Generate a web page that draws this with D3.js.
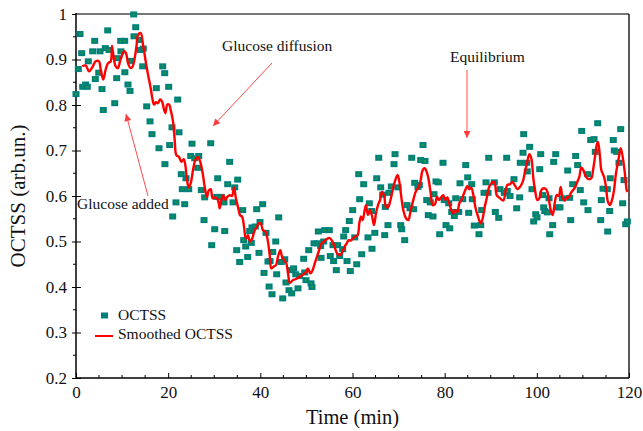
<!DOCTYPE html>
<html>
<head>
<meta charset="utf-8">
<script src="https://cdn.jsdelivr.net/npm/d3@7"></script>
<style>
  body { margin: 0; background: #fff; }
  svg text { font-family: "Liberation Serif", "Times New Roman", serif; fill: #111; }
</style>
</head>
<body>
<div id="chart"></div>
<script>
// raw OCTSS readings (time in min, value in arb. units)
const obsTime = [0, 0.5, 0.87, 1.24, 1.45, 2.10, 2.45, 2.67, 3.62, 4.06, 4.19, 4.93, 5.21, 5.64, 5.92, 6.36, 6.88, 7.16, 8.40, 8.83,
  8.96, 9.70, 9.75, 10.57, 10.6, 11.28, 11.72, 11.87, 12.52, 12.59, 12.96, 13.74, 13.89, 14.47, 14.60, 15.34, 16.06, 16.49, 17.43, 18.01,
  18.81, 19.25, 19.3, 20.12, 20.33, 20.83, 20.98, 21.70, 22.07, 22.35, 22.85, 23.07, 23.59, 23.87, 24.46, 24.89, 25.17, 25.76, 26.41, 26.63,
  27.19, 27.78, 27.93, 29.23, 29.45, 30.10, 30.53, 30.75, 31.53, 32.11, 32.27, 32.92, 33.35, 34.07, 34.44, 34.87, 35.09, 35.52, 36.17, 36.39,
  36.83, 37.26, 37.69, 38.04, 38.19, 38.91, 39.21, 39.71, 39.93, 40.51, 40.80, 41.23, 41.66, 41.9, 42.10, 42.53, 42.69, 43.34, 43.55, 43.99,
  44.55, 44.86, 45.29, 45.57, 46.22, 46.72, 46.8, 47.24, 47.68, 48.17, 48.54, 49.41, 49.63, 49.91, 50.50, 51.00, 51.21, 51.65, 52.37, 52.59,
  53.09, 53.18, 53.75, 53.97, 54.97, 55.18, 55.77, 55.9, 56.49, 56.79, 57.22, 57.87, 58.09, 58.52, 58.81, 59.31, 59.52, 60.04, 60.48, 60.91,
  61.35, 61.56, 62.00, 62.43, 63.36, 63.65, 64.17, 64.23, 64.84, 65.25, 65.69, 66.12, 66.55, 66.99, 67.12, 67.70, 67.92, 68.42, 69.01, 69.23,
  69.87, 70.46, 70.68, 71.33, 71.83, 72.48, 72.85, 73.28, 73.50, 74.21, 74.50, 74.80, 75.30, 75.73, 76.10, 76.45, 76.88, 77.47, 77.69, 78.12,
  78.62, 78.92, 79.64, 79.92, 80.29, 80.88, 81.09, 81.53, 82.09, 82.40, 83.05, 83.33, 83.92, 84.57, 85.00, 85.21, 85.87, 86.0, 86.43, 87.45,
  87.82, 88.04, 88.54, 88.97, 89.40, 89.56, 90.77, 90.99, 91.73, 92.01, 92.94, 93.46, 93.59, 94.18, 95.04, 95.63, 96.28, 96.41, 97.00, 97.15,
  97.80, 97.93, 98.45, 98.95, 99.32, 99.76, 100.04, 100.63, 100.84, 101.27, 101.49, 101.71, 102.27, 102.64, 102.80, 103.44, 103.66, 104.10, 104.53, 105.03,
  105.53, 106.70, 107.13, 107.35, 107.79, 108.43, 108.87, 109.43, 109.74, 110.17, 111.04, 111.1, 111.69, 112.41, 112.69, 113.21, 113.86, 113.99, 114.36, 115.29,
  115.38, 115.81, 115.94, 116.59, 116.81, 117.33, 117.83, 118.20, 118.63, 118.92, 119.29, 119.64];
const obsValue = [0.824, 0.879, 0.956, 0.914, 0.840, 0.845, 0.840, 0.896, 0.918, 0.941, 0.857, 0.871, 0.918, 0.835, 0.789, 0.925, 0.964, 0.921, 0.804, 0.859,
  0.903, 0.941, 0.918, 0.941, 0.872, 0.845, 0.831, 0.897, 0.999, 0.951, 0.971, 0.943, 0.921, 0.885, 0.924, 0.797, 0.764, 0.736, 0.837, 0.705,
  0.885, 0.870, 0.670, 0.840, 0.712, 0.751, 0.555, 0.586, 0.812, 0.740, 0.648, 0.615, 0.582, 0.639, 0.615, 0.688, 0.715, 0.683, 0.662, 0.688,
  0.613, 0.547, 0.597, 0.716, 0.492, 0.527, 0.598, 0.639, 0.598, 0.586, 0.523, 0.626, 0.675, 0.586, 0.619, 0.481, 0.636, 0.455, 0.569, 0.503,
  0.489, 0.466, 0.523, 0.497, 0.531, 0.533, 0.571, 0.475, 0.543, 0.582, 0.431, 0.519, 0.456, 0.401, 0.457, 0.384, 0.477, 0.500, 0.428, 0.553,
  0.455, 0.375, 0.461, 0.410, 0.393, 0.437, 0.386, 0.441, 0.428, 0.397, 0.424, 0.462, 0.432, 0.415, 0.481, 0.408, 0.400, 0.496, 0.496, 0.522,
  0.490, 0.464, 0.500, 0.525, 0.525, 0.468, 0.492, 0.457, 0.437, 0.492, 0.468, 0.483, 0.511, 0.525, 0.457, 0.545, 0.435, 0.569, 0.509, 0.450,
  0.648, 0.593, 0.472, 0.626, 0.509, 0.584, 0.567, 0.484, 0.519, 0.639, 0.684, 0.619, 0.603, 0.514, 0.576, 0.536, 0.607, 0.621, 0.670, 0.692,
  0.619, 0.536, 0.527, 0.503, 0.580, 0.573, 0.684, 0.571, 0.629, 0.620, 0.624, 0.679, 0.712, 0.677, 0.591, 0.558, 0.586, 0.555, 0.604, 0.632,
  0.630, 0.516, 0.673, 0.591, 0.536, 0.584, 0.529, 0.565, 0.556, 0.595, 0.565, 0.628, 0.593, 0.668, 0.641, 0.563, 0.626, 0.593, 0.535, 0.516,
  0.536, 0.569, 0.607, 0.630, 0.607, 0.684, 0.630, 0.565, 0.552, 0.615, 0.607, 0.684, 0.611, 0.600, 0.637, 0.573, 0.597, 0.673, 0.695, 0.736,
  0.673, 0.654, 0.708, 0.615, 0.544, 0.560, 0.553, 0.659, 0.692, 0.602, 0.575, 0.567, 0.564, 0.595, 0.516, 0.536, 0.675, 0.692, 0.575, 0.575,
  0.595, 0.656, 0.596, 0.547, 0.626, 0.688, 0.668, 0.613, 0.743, 0.586, 0.648, 0.569, 0.723, 0.725, 0.697, 0.760, 0.547, 0.591, 0.616, 0.615,
  0.522, 0.567, 0.639, 0.723, 0.700, 0.697, 0.673, 0.747, 0.584, 0.635, 0.538, 0.544];

// smoothed curve
const smoothTime = [1.37, 2.10, 2.82, 3.54, 4.27, 4.99, 5.36, 5.92, 6.44, 6.94, 7.53, 7.81, 8.09, 8.61, 9.11, 9.55, 9.92, 10.42, 10.85, 11.28,
  11.87, 12.30, 12.74, 13.17, 13.52, 14.04, 14.54, 15.12, 15.62, 16.21, 16.56, 16.93, 17.36, 17.79, 18.23, 18.66, 19.10, 19.38, 19.81, 20.18,
  20.62, 21.05, 21.42, 21.77, 22.35, 22.85, 23.37, 23.72, 24.09, 24.46, 24.89, 25.39, 25.89, 26.47, 26.97, 27.49, 27.93, 28.43, 28.80, 29.23,
  29.66, 30.23, 30.81, 31.18, 31.53, 31.96, 32.40, 32.83, 33.35, 33.85, 34.29, 34.65, 35.15, 35.65, 36.02, 36.46, 36.74, 37.04, 37.32, 37.76,
  38.19, 38.78, 39.21, 39.65, 40.08, 40.58, 41.08, 41.60, 42.03, 42.38, 42.90, 43.40, 43.83, 44.33, 44.70, 45.14, 45.64, 46.00, 46.44, 47.03,
  47.59, 48.33, 49.04, 49.76, 50.34, 50.84, 51.21, 51.93, 52.67, 53.23, 53.82, 54.40, 54.97, 55.55, 56.14, 56.70, 57.29, 57.87, 58.31, 58.74,
  59.18, 59.61, 60.04, 60.61, 61.13, 61.48, 61.85, 62.21, 62.65, 62.93, 63.36, 63.80, 64.23, 64.67, 65.10, 65.53, 65.97, 66.40, 66.84, 67.27,
  67.70, 68.14, 68.72, 69.29, 69.81, 70.16, 70.59, 71.03, 71.61, 72.11, 72.63, 73.19, 73.78, 74.37, 74.80, 75.23, 75.67, 76.10, 76.54, 76.97,
  77.41, 77.90, 78.34, 78.77, 79.21, 79.70, 80.14, 80.57, 81.01, 81.44, 81.88, 82.31, 82.74, 83.18, 83.61, 84.05, 84.48, 84.92, 85.35, 85.78,
  86.22, 86.65, 87.23, 87.82, 88.25, 88.69, 89.12, 89.56, 90.12, 90.77, 91.29, 92.01, 92.72, 93.25, 93.59, 94.18, 94.68, 95.20, 95.76, 96.35,
  96.93, 97.43, 97.93, 98.37, 98.80, 99.24, 99.67, 100.10, 100.54, 100.97, 101.56, 102.14, 102.58, 103.01, 103.44, 103.88, 104.31, 104.75, 105.18, 105.61,
  106.05, 106.48, 106.92, 107.35, 107.78, 108.35, 108.78, 109.22, 109.65, 110.09, 110.67, 111.26, 111.82, 112.26, 112.62, 112.99, 113.27, 113.71, 113.99, 114.58,
  115.01, 115.44, 115.88, 116.31, 116.75, 117.18, 117.77, 118.20, 118.63, 119.07, 119.50, 119.67];
const smoothValue = [0.885, 0.887, 0.874, 0.883, 0.896, 0.896, 0.878, 0.856, 0.878, 0.892, 0.896, 0.930, 0.911, 0.885, 0.881, 0.896, 0.907, 0.918, 0.914, 0.892,
  0.881, 0.885, 0.903, 0.933, 0.955, 0.958, 0.933, 0.896, 0.867, 0.837, 0.815, 0.801, 0.806, 0.804, 0.812, 0.808, 0.790, 0.782, 0.801, 0.801,
  0.786, 0.764, 0.723, 0.690, 0.686, 0.675, 0.681, 0.668, 0.635, 0.619, 0.628, 0.657, 0.679, 0.686, 0.675, 0.650, 0.620, 0.598, 0.612, 0.615,
  0.595, 0.597, 0.591, 0.573, 0.591, 0.602, 0.591, 0.598, 0.602, 0.600, 0.619, 0.598, 0.576, 0.557, 0.555, 0.533, 0.511, 0.507, 0.514, 0.500,
  0.505, 0.525, 0.531, 0.540, 0.540, 0.525, 0.522, 0.503, 0.470, 0.441, 0.445, 0.448, 0.467, 0.481, 0.467, 0.459, 0.452, 0.430, 0.409, 0.415,
  0.417, 0.421, 0.426, 0.431, 0.441, 0.430, 0.434, 0.456, 0.478, 0.495, 0.500, 0.505, 0.508, 0.502, 0.487, 0.473, 0.470, 0.478, 0.489, 0.496,
  0.503, 0.502, 0.506, 0.511, 0.514, 0.540, 0.555, 0.547, 0.569, 0.580, 0.558, 0.569, 0.556, 0.536, 0.562, 0.580, 0.591, 0.609, 0.602, 0.576,
  0.575, 0.587, 0.613, 0.635, 0.646, 0.631, 0.598, 0.569, 0.551, 0.547, 0.569, 0.591, 0.611, 0.619, 0.635, 0.657, 0.661, 0.653, 0.635, 0.606,
  0.580, 0.582, 0.598, 0.591, 0.597, 0.602, 0.591, 0.597, 0.584, 0.569, 0.562, 0.569, 0.565, 0.584, 0.591, 0.602, 0.613, 0.622, 0.615, 0.618,
  0.602, 0.576, 0.555, 0.540, 0.551, 0.576, 0.595, 0.617, 0.628, 0.631, 0.602, 0.595, 0.590, 0.613, 0.624, 0.626, 0.631, 0.624, 0.615, 0.620,
  0.631, 0.653, 0.675, 0.692, 0.683, 0.639, 0.609, 0.591, 0.595, 0.613, 0.617, 0.613, 0.595, 0.569, 0.558, 0.584, 0.602, 0.600, 0.620, 0.595,
  0.590, 0.597, 0.597, 0.606, 0.612, 0.620, 0.631, 0.642, 0.663, 0.657, 0.642, 0.637, 0.639, 0.661, 0.686, 0.712, 0.719, 0.686, 0.657, 0.642,
  0.620, 0.587, 0.580, 0.591, 0.613, 0.650, 0.683, 0.705, 0.686, 0.653, 0.613, 0.609];

const xTicks = [0, 20, 40, 60, 80, 100, 120];
const xMinor = [5, 10, 15, 25, 30, 35, 45, 50, 55, 65, 70, 75, 85, 90, 95, 105, 110, 115];
const yTicks = [0.2, 0.3, 0.4, 0.5, 0.6, 0.7, 0.8, 0.9, 1];
const yMinor = [0.25, 0.35, 0.45, 0.55, 0.65, 0.75, 0.85, 0.95];

const width = 643, height = 431;
const mLeft = 76, mRight = 629, mTop = 14, mBottom = 378;

const svg = d3.select("#chart").append("svg")
    .attr("width", width)
    .attr("height", height);

const x = d3.scaleLinear().domain([0, 120]).range([mLeft, mRight]);
const y = d3.scaleLinear().domain([0.2, 1]).range([mBottom, mTop]);

const fmt = d3.format("~g");

// y axis labels + ticks
const yAxis = svg.append("g")
    .attr("transform", `translate(${mLeft},0)`)
    .call(d3.axisLeft(y).tickValues(yTicks).tickFormat(fmt).tickSize(4).tickPadding(5));
yAxis.select(".domain").remove();
yAxis.selectAll(".tick line").attr("stroke", "#000").attr("x2", 5).attr("x1", -4);
yAxis.selectAll("text").style("font-size", "17px");

svg.append("g").selectAll("line")
    .data(yMinor)
    .enter().append("line")
    .attr("x1", mLeft - 3).attr("x2", mLeft)
    .attr("y1", d => y(d)).attr("y2", d => y(d))
    .attr("stroke", "#000");

// x axis labels + ticks (pointing inward)
const xAxis = svg.append("g")
    .attr("transform", `translate(0,${mBottom})`)
    .call(d3.axisBottom(x).tickValues(xTicks).tickSize(0).tickPadding(8));
xAxis.select(".domain").remove();
xAxis.selectAll(".tick line").attr("stroke", "#000").attr("y2", -5);
xAxis.selectAll("text").style("font-size", "17px");

svg.append("g").selectAll("line")
    .data(xMinor)
    .enter().append("line")
    .attr("x1", d => x(d)).attr("x2", d => x(d))
    .attr("y1", mBottom - 3).attr("y2", mBottom)
    .attr("stroke", "#000");

// frame
svg.append("line").attr("x1", mLeft).attr("x2", mRight).attr("y1", mTop).attr("y2", mTop)
    .attr("stroke", "#777").attr("stroke-width", 2);
svg.append("line").attr("x1", mRight).attr("x2", mRight).attr("y1", mTop).attr("y2", mBottom)
    .attr("stroke", "#000").attr("stroke-width", 1.3);
svg.append("line").attr("x1", mLeft).attr("x2", mLeft).attr("y1", mTop - 1).attr("y2", mBottom)
    .attr("stroke", "#000").attr("stroke-width", 1.5);
svg.append("line").attr("x1", mLeft).attr("x2", mRight).attr("y1", mBottom).attr("y2", mBottom)
    .attr("stroke", "#000").attr("stroke-width", 1.5);

// axis titles
svg.append("text")
    .attr("transform", `translate(25,196) rotate(-90)`)
    .attr("text-anchor", "middle")
    .style("font-size", "21px")
    .text("OCTSS (arb.un.)");

svg.append("text")
    .attr("x", (mLeft + mRight) / 2)
    .attr("y", 424)
    .attr("text-anchor", "middle")
    .style("font-size", "20.5px")
    .text("Time (min)");

// scatter markers
const pts = obsTime.map((t, i) => ({ t: t, v: obsValue[i] }));
const marks = svg.append("g").selectAll("g")
    .data(pts)
    .enter().append("g")
    .attr("transform", d => `translate(${x(d.t)},${y(d.v)})`);
marks.append("rect")
    .attr("x", -3.5).attr("y", -3)
    .attr("width", 7).attr("height", 6)
    .attr("fill", "#00807a");
marks.append("rect")
    .attr("x", -1).attr("y", -1)
    .attr("width", 2).attr("height", 2)
    .attr("fill", "#1f9a3a");

// smoothed line
const line = d3.line()
    .x((d, i) => x(smoothTime[i]))
    .y(d => y(d))
    .curve(d3.curveCatmullRom.alpha(0.5));

svg.append("path")
    .datum(smoothValue)
    .attr("d", line)
    .attr("fill", "none")
    .attr("stroke", "#ff0000")
    .attr("stroke-width", 2.4)
    .attr("stroke-linejoin", "round");

// annotations
const defs = svg.append("defs");
defs.append("marker")
    .attr("id", "head")
    .attr("viewBox", "0 0 10 10")
    .attr("refX", 10).attr("refY", 5)
    .attr("markerWidth", 9).attr("markerHeight", 7)
    .attr("markerUnits", "userSpaceOnUse")
    .attr("orient", "auto")
    .append("path")
    .attr("d", "M0,0 L10,5 L0,10 Z")
    .attr("fill", "#ff3b3b");

const notes = [
    { label: "Glucose diffusion", tx: 222, ty: 51, x1: 272, y1: 63, x2: 213, y2: 126 },
    { label: "Equilibrium", tx: 450, ty: 62, x1: 467, y1: 70, x2: 467, y2: 138 },
    { label: "Glucose added", tx: 77, ty: 209, x1: 148, y1: 196, x2: 126, y2: 114 }
];

notes.forEach(n => {
    svg.append("line")
        .attr("x1", n.x1).attr("y1", n.y1)
        .attr("x2", n.x2).attr("y2", n.y2)
        .attr("stroke", "#ff4a4a")
        .attr("stroke-width", 1)
        .attr("marker-end", "url(#head)");
    svg.append("text")
        .attr("x", n.tx).attr("y", n.ty)
        .style("font-size", "15.5px")
        .text(n.label);
});

// legend
const legend = svg.append("g");
legend.append("rect")
    .attr("x", 101).attr("y", 312.5)
    .attr("width", 7).attr("height", 6)
    .attr("fill", "#00807a");
legend.append("text")
    .attr("x", 118).attr("y", 320)
    .style("font-size", "15.5px")
    .text("OCTSS");
legend.append("line")
    .attr("x1", 95).attr("x2", 113)
    .attr("y1", 336).attr("y2", 336)
    .attr("stroke", "#ff0000").attr("stroke-width", 2);
legend.append("text")
    .attr("x", 118).attr("y", 339)
    .style("font-size", "15.5px")
    .text("Smoothed OCTSS");
</script>
</body>
</html>
